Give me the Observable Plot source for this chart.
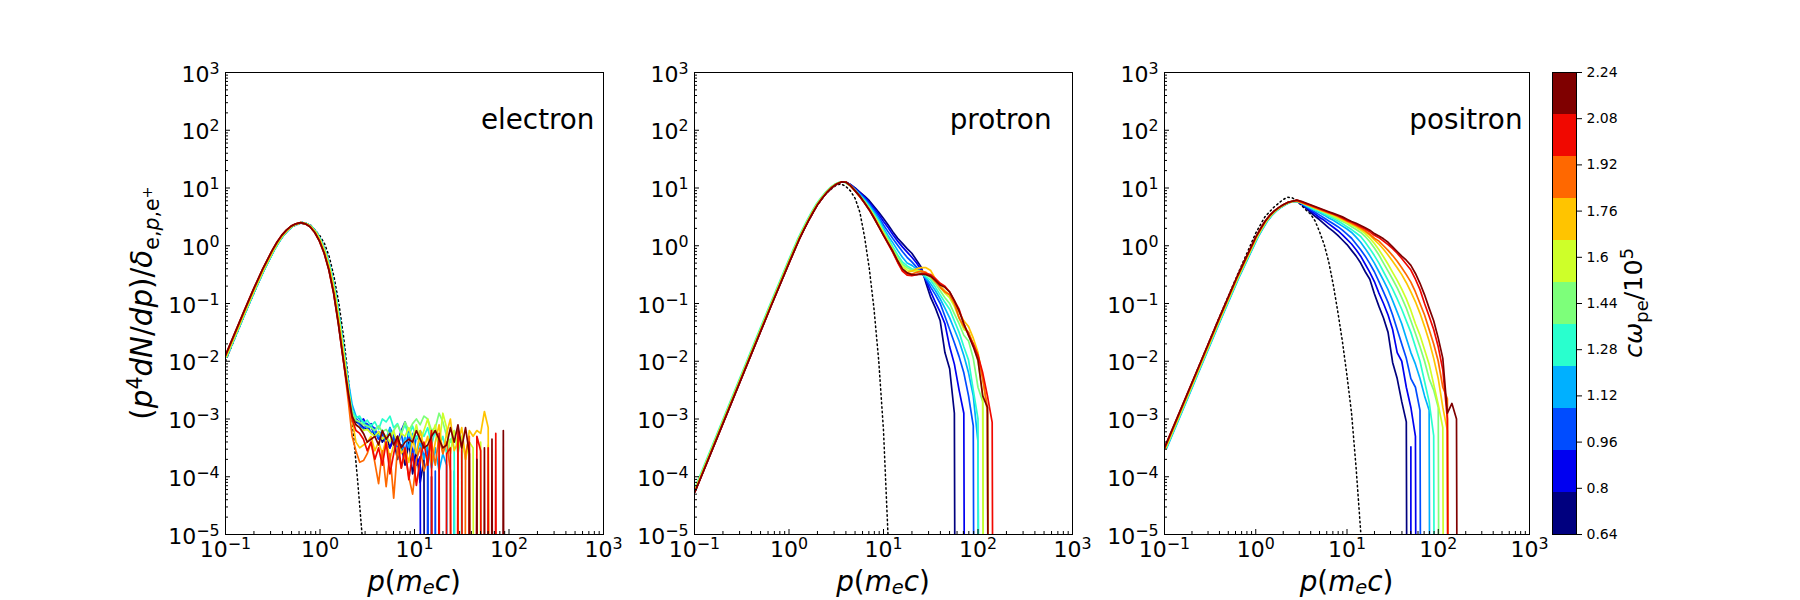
<!DOCTYPE html>
<html>
<head>
<meta charset="utf-8">
<script src="https://cdn.jsdelivr.net/npm/d3@7"></script>
<script src="https://cdn.jsdelivr.net/npm/@observablehq/plot@0.6"></script>
<style>
  body { margin: 0; background: white; overflow: hidden; font-family: "DejaVu Sans"; }
  #page { position: relative; width: 1800px; height: 600px; }
  .lab { position: absolute; font-size: 27.8px; white-space: nowrap; line-height: 1; color: black; }
  .lab sub, .lab sup { font-size: 0.7em; line-height: 0; }
  .lab .low { font-size: 0.7em; vertical-align: -0.15em; line-height: 0; }
</style>
</head>
<body>
<div id="page"></div>
<script>
// all curves as log10 values, o = empty bin
const o = -30;

const times = [0.64, 0.8, 0.96, 1.12, 1.28, 1.44, 1.6, 1.76, 1.92, 2.08, 2.24];
const jet = ["#00007f", "#0000f1", "#004cff", "#00b0ff", "#29ffce", "#7dff7a", "#ceff29", "#ffc400", "#ff6800", "#f10800", "#7f0000"];
const barEdges = [0.64, 0.7855, 0.9309, 1.0764, 1.2218, 1.3673, 1.5127, 1.6582, 1.8036, 1.9491, 2.0945, 2.24];
const decadesX = [0.1, 1, 10, 100, 1000];
const decadesY = [1e-5, 1e-4, 1e-3, 1e-2, 1e-1, 1, 10, 100, 1000];
const multiples = [2, 3, 4, 5, 6, 7, 8, 9];

// electron
const electronBodyP = [-1, -0.9, -0.8, -0.7, -0.6, -0.5, -0.45, -0.4, -0.35, -0.3, -0.25, -0.2, -0.15, -0.1, -0.05, 0, 0.05, 0.1, 0.15, 0.2, 0.25];
const electronBody = [-1.92, -1.53, -1.14, -0.76, -0.4, -0.08, 0.06, 0.18, 0.27, 0.34, 0.38, 0.4, 0.38, 0.33, 0.23, 0.08, -0.13, -0.42, -0.82, -1.35, -1.95];
const electronShift = [0.01, 0.012, 0.014, 0.014, 0.014, 0.01, 0.006, 0.002, -0.004, -0.006, -0.006];
const electronTailP = [0.3, 0.34, 0.38, 0.42, 0.46, 0.5, 0.54, 0.58, 0.62, 0.66, 0.7, 0.74, 0.78, 0.82, 0.86, 0.9, 0.94, 0.98, 1.02, 1.06, 1.1, 1.14, 1.18, 1.22, 1.26, 1.3, 1.34, 1.38, 1.42, 1.46, 1.5, 1.54, 1.58, 1.62, 1.66, 1.7, 1.74, 1.78, 1.82, 1.86, 1.9, 1.94, 1.98];
const electronTail = [
  [-2.5, -2.95, -3.05, -3.08, -3.15, -3.18, -3.12, -3.3, -3.22, -3.4, -3.3, -3.5, -3.35, -3.7, -3.45, -3.8, -3.4, -3.95, -3.55, -4.1, -3.7, o, -4.0, o],
  [-2.5, -2.9, -3.0, -3.05, -3.0, -3.12, -3.08, -3.2, -3.35, -3.25, -3.45, -3.5, -3.3, -3.4, -3.2, -3.05, -3.3, -3.55, -3.8, -3.65, o, -3.8, o],
  [-2.45, -2.9, -3.0, -3.1, -3.18, -3.08, -3.25, -3.15, -3.35, -3.2, -3.42, -3.15, -3.3, -3.5, -3.25, -3.6, -3.2, -3.7, -3.3, -3.4, -3.65, -3.5, o, -3.9, o],
  [-2.35, -2.75, -2.95, -3.0, -3.05, -3.15, -3.1, -3.25, -3.3, -3.2, -3.4, -3.15, -3.45, -3.3, -3.55, -3.3, -3.5, -3.25, -3.6, -3.4, -3.7, -3.45, -3.85, -3.5, -3.9, -3.6, -3.8, o, -3.9, o],
  [-2.45, -2.85, -2.98, -2.95, -3.08, -3.02, -3.12, -3.05, -3.18, -3.0, -3.05, -2.95, -3.15, -3.08, -3.25, -3.1, -3.3, -3.12, -3.35, -3.2, -3.3, -3.15, -3.45, -3.2, -3.5, -3.3, -3.6, -3.35, -3.5, o, -3.55, o],
  [-2.5, -2.9, -3.02, -3.05, -3.1, -3.12, -3.15, -3.2, -3.12, -3.22, -3.18, -3.28, -3.2, -3.1, -3.25, -3.05, -3.2, -3.08, -3.0, -3.1, -2.95, -3.0, -3.2, -3.15, -2.9, -3.05, -3.3, -3.4, -3.2, -3.6, -3.3, o, -3.6, o],
  [-2.5, -2.95, -3.1, -3.15, -3.2, -3.18, -3.25, -3.3, -3.22, -3.35, -3.28, -3.4, -3.2, -3.45, -3.25, -3.3, -3.15, -3.35, -3.1, -3.4, -3.2, -3.0, -3.3, -3.1, -3.5, -2.9, -3.15, -3.6, -3.2, -3.5, -3.3, -3.7, -3.4, -3.5, o, -3.4, o, -3.45, o],
  [-2.5, -3.0, -3.4, -3.5, -3.45, -3.4, -3.3, -3.55, -3.4, -3.6, -3.35, -3.7, -3.45, -3.3, -3.6, -3.5, -3.75, -3.35, -3.6, -3.2, -3.5, -3.3, -3.8, -3.4, -3.1, -3.6, -3.25, -3.0, -3.55, -3.4, -3.15, -3.7, -3.2, -3.3, -3.2, -3.25, -2.87, -3.15, o],
  [-2.7, -3.3, -3.55, -3.75, -3.72, -3.6, -3.4, -3.75, -4.12, -3.55, -4.17, -3.6, -4.37, -3.5, -3.85, -3.6, -4.0, -4.3, -3.7, -3.5, -3.9, -3.7, -3.4, -3.8, -3.3, -3.6, -3.4, -3.9, o, -3.3, o, -3.6, -3.3, o],
  [-2.6, -3.0, -3.2, -3.25, -3.35, -3.55, -3.4, -3.7, -3.5, -3.8, -3.4, -3.95, -3.6, -3.3, -3.85, -3.5, -4.05, -3.6, -4.15, -3.7, -3.4, -3.8, -3.2, o, -3.25, o, -3.6, -3.5, o, -3.2, -3.5, o, -3.4, o, -3.3, -3.55, o, -3.5, o, -3.25, o],
  [-2.55, -2.95, -3.1, -3.15, -3.25, -3.4, -3.35, -3.3, -3.45, -3.2, -3.35, -3.25, -3.45, -3.3, -3.5, -3.4, -3.35, -3.4, -3.2, -3.35, -3.5, -3.45, -3.3, -3.2, -3.35, -3.5, -3.45, -3.15, -3.4, -3.1, -3.5, -3.15, -3.6, o, -3.7, o, -3.5, o, -3.35, o, o, -3.2, o]
];
const electronDotP = [-1, -0.8, -0.6, -0.5, -0.4, -0.3, -0.2, -0.1, 0, 0.05, 0.1, 0.15, 0.2, 0.25, 0.3, 0.35, 0.4, 0.45];
const electronDot = [-2.0, -1.2, -0.45, -0.1, 0.17, 0.33, 0.39, 0.36, 0.17, 0.03, -0.2, -0.55, -1.0, -1.58, -2.3, -3.2, -4.1, -5.1];

// protron
const protronBodyP = [-1, -0.8, -0.6, -0.4, -0.2, 0, 0.05, 0.1, 0.15, 0.2, 0.25, 0.3, 0.35, 0.4, 0.45, 0.5, 0.55, 0.6];
const protronBody = [-4.26, -3.46, -2.66, -1.86, -1.06, -0.28, -0.09, 0.1, 0.27, 0.43, 0.58, 0.72, 0.83, 0.93, 1.01, 1.07, 1.105, 1.1];
const protronShift = [0.004, 0.004, 0.002, -0.004, -0.012, -0.008, -0.002, 0.002, 0.004, 0.005, 0.006];
const protronTailP = [0.65, 0.7, 0.75, 0.8, 0.85, 0.9, 0.95, 1, 1.05, 1.1, 1.15, 1.2, 1.25, 1.3, 1.35, 1.4, 1.45, 1.5, 1.55, 1.6, 1.65, 1.7, 1.75, 1.8, 1.85, 1.9, 1.95, 2, 2.05, 2.1, 2.15, 2.2];
const protronTail = [
  [1.06, 1, 0.93, 0.86, 0.78, 0.68, 0.58, 0.47, 0.36, 0.24, 0.13, 0.04, -0.05, -0.13, -0.25, -0.37, -0.65, -0.9, -1.08, -1.3, -1.85, -2.13, -2.9, o],
  [1.06, 0.99, 0.92, 0.84, 0.75, 0.65, 0.54, 0.42, 0.31, 0.19, 0.08, -0.02, -0.11, -0.2, -0.3, -0.42, -0.6, -0.8, -0.98, -1.15, -1.35, -1.75, -2.05, -2.5, -2.9, o],
  [1.05, 0.98, 0.9, 0.82, 0.72, 0.62, 0.5, 0.36, 0.24, 0.12, 0.01, -0.1, -0.2, -0.28, -0.37, -0.46, -0.58, -0.72, -0.85, -1, -1.22, -1.45, -1.68, -1.92, -2.2, -2.6, -3.12, o],
  [1.05, 0.97, 0.89, 0.8, 0.7, 0.58, 0.46, 0.31, 0.17, 0.05, -0.08, -0.2, -0.3, -0.34, -0.4, -0.47, -0.56, -0.66, -0.78, -0.92, -1.08, -1.25, -1.45, -1.65, -1.9, -2.2, -2.6, -3.4, o],
  [1.04, 0.96, 0.87, 0.78, 0.67, 0.55, 0.42, 0.27, 0.13, -0.02, -0.16, -0.28, -0.35, -0.4, -0.42, -0.48, -0.54, -0.6, -0.72, -0.85, -0.98, -1.1, -1.3, -1.5, -1.75, -1.98, -2.5, -3, o],
  [1.04, 0.96, 0.86, 0.77, 0.65, 0.53, 0.39, 0.24, 0.1, -0.05, -0.2, -0.32, -0.38, -0.42, -0.43, -0.46, -0.5, -0.56, -0.66, -0.78, -0.9, -1, -1.18, -1.35, -1.55, -1.65, -1.95, -2.45, -2.7, o],
  [1.04, 0.95, 0.85, 0.75, 0.64, 0.51, 0.37, 0.22, 0.07, -0.08, -0.24, -0.36, -0.42, -0.44, -0.43, -0.44, -0.47, -0.53, -0.62, -0.72, -0.82, -0.9, -1.05, -1.25, -1.45, -1.5, -1.7, -2, -2.6, o],
  [1.04, 0.95, 0.85, 0.75, 0.63, 0.5, 0.35, 0.2, 0.05, -0.1, -0.27, -0.4, -0.46, -0.44, -0.4, -0.38, -0.38, -0.43, -0.58, -0.7, -0.78, -0.85, -1, -1.15, -1.3, -1.4, -1.6, -1.85, -2.3, -2.9, o],
  [1.04, 0.95, 0.85, 0.74, 0.62, 0.48, 0.33, 0.19, 0.04, -0.11, -0.28, -0.42, -0.49, -0.49, -0.46, -0.44, -0.46, -0.53, -0.62, -0.72, -0.8, -0.85, -1, -1.25, -1.4, -1.5, -1.72, -1.9, -2.3, -2.8, o],
  [1.04, 0.95, 0.85, 0.74, 0.62, 0.48, 0.33, 0.18, 0.03, -0.12, -0.29, -0.44, -0.51, -0.52, -0.5, -0.48, -0.48, -0.5, -0.57, -0.65, -0.7, -0.8, -0.95, -1.1, -1.35, -1.55, -1.7, -1.9, -2.2, -2.6, -3.06, o],
  [1.04, 0.95, 0.86, 0.74, 0.62, 0.48, 0.33, 0.18, 0.04, -0.1, -0.26, -0.4, -0.47, -0.5, -0.5, -0.49, -0.5, -0.53, -0.6, -0.68, -0.72, -0.8, -0.95, -1.13, -1.35, -1.55, -1.75, -1.98, -2.6, -2.8, o]
];
const protronDotP = [-1, -0.8, -0.6, -0.4, -0.2, 0, 0.1, 0.2, 0.3, 0.4, 0.5, 0.55, 0.6, 0.65, 0.7, 0.75, 0.8, 0.85, 0.9, 0.95, 1, 1.05];
const protronDot = [-4.26, -3.46, -2.66, -1.86, -1.06, -0.28, 0.1, 0.43, 0.71, 0.92, 1.05, 1.07, 1.03, 0.95, 0.82, 0.58, 0.15, -0.4, -1.1, -2, -3.2, -5.1];

// positron
const positronBodyP = [-1, -0.8, -0.6, -0.4, -0.2, 0, 0.05, 0.1, 0.15, 0.2, 0.25, 0.3, 0.35, 0.4];
const positronBody = [-3.5, -2.75, -2, -1.25, -0.52, 0.15, 0.29, 0.42, 0.52, 0.6, 0.66, 0.71, 0.75, 0.77];
const positronShift = [0.012, 0.016, 0.02, 0.025, 0.02, 0.016, 0.012, 0.008, 0.004, 0, 0];
const positronTailP = [0.45, 0.5, 0.55, 0.6, 0.65, 0.7, 0.75, 0.8, 0.85, 0.9, 0.95, 1, 1.05, 1.1, 1.15, 1.2, 1.25, 1.3, 1.35, 1.4, 1.45, 1.5, 1.55, 1.6, 1.65, 1.7, 1.75, 1.8, 1.85, 1.9, 1.95, 2, 2.05, 2.1, 2.15, 2.2, 2.25];
const positronTail = [
  [0.77, 0.72, 0.65, 0.58, 0.51, 0.45, 0.38, 0.31, 0.25, 0.18, 0.1, 0.02, -0.08, -0.18, -0.3, -0.45, -0.58, -0.83, -1.05, -1.25, -1.5, -2.02, -2.3, -2.7, -3.05, o],
  [0.77, 0.73, 0.67, 0.61, 0.55, 0.49, 0.44, 0.38, 0.32, 0.26, 0.19, 0.11, 0.03, -0.07, -0.18, -0.32, -0.46, -0.62, -0.82, -1, -1.2, -1.45, -1.85, -2, -2.45, -2.8, -3.3, o],
  [0.77, 0.73, 0.68, 0.63, 0.58, 0.53, 0.48, 0.43, 0.38, 0.33, 0.27, 0.2, 0.13, 0.03, -0.07, -0.18, -0.31, -0.45, -0.62, -0.8, -0.98, -1.2, -1.45, -1.7, -1.95, -2.3, -2.45, -2.85, o],
  [0.77, 0.74, 0.69, 0.65, 0.61, 0.57, 0.53, 0.48, 0.44, 0.39, 0.34, 0.29, 0.23, 0.15, 0.06, -0.05, -0.17, -0.3, -0.45, -0.6, -0.76, -0.95, -1.15, -1.35, -1.6, -1.85, -2.05, -2.3, -2.6, -2.85, o],
  [0.77, 0.74, 0.7, 0.66, 0.62, 0.59, 0.55, 0.51, 0.47, 0.43, 0.38, 0.33, 0.28, 0.22, 0.16, 0.06, -0.05, -0.17, -0.3, -0.45, -0.6, -0.75, -0.92, -1.1, -1.3, -1.5, -1.75, -2, -2.35, -2.7, -3.29, o],
  [0.77, 0.75, 0.71, 0.68, 0.64, 0.61, 0.58, 0.54, 0.5, 0.46, 0.42, 0.38, 0.33, 0.28, 0.23, 0.16, 0.07, -0.04, -0.16, -0.3, -0.44, -0.58, -0.73, -0.9, -1.08, -1.3, -1.52, -1.75, -2, -2.3, -2.5, -2.8, o],
  [0.77, 0.75, 0.72, 0.69, 0.65, 0.62, 0.59, 0.56, 0.52, 0.48, 0.44, 0.4, 0.36, 0.32, 0.27, 0.21, 0.13, 0.04, -0.07, -0.19, -0.32, -0.46, -0.6, -0.75, -0.92, -1.12, -1.35, -1.55, -1.8, -2.05, -2.4, -2.75, -3.15, o],
  [0.78, 0.75, 0.72, 0.69, 0.66, 0.63, 0.6, 0.57, 0.54, 0.5, 0.46, 0.42, 0.38, 0.34, 0.29, 0.24, 0.18, 0.1, 0.03, -0.06, -0.16, -0.27, -0.38, -0.5, -0.64, -0.8, -0.97, -1.17, -1.4, -1.65, -1.95, -2.3, -2.8, -3.2, o],
  [0.78, 0.75, 0.72, 0.69, 0.66, 0.63, 0.6, 0.57, 0.54, 0.51, 0.47, 0.43, 0.39, 0.35, 0.31, 0.26, 0.2, 0.13, 0.08, 0, -0.08, -0.17, -0.27, -0.38, -0.5, -0.63, -0.8, -1, -1.2, -1.45, -1.7, -2, -2.45, -2.65, o],
  [0.79, 0.76, 0.73, 0.7, 0.67, 0.64, 0.61, 0.58, 0.55, 0.52, 0.48, 0.44, 0.41, 0.37, 0.33, 0.29, 0.24, 0.18, 0.14, 0.08, 0.02, -0.05, -0.13, -0.22, -0.32, -0.42, -0.58, -0.76, -1, -1.22, -1.45, -1.75, -2.15, -3, o],
  [0.79, 0.77, 0.74, 0.71, 0.68, 0.65, 0.62, 0.59, 0.56, 0.53, 0.5, 0.46, 0.42, 0.39, 0.35, 0.31, 0.27, 0.21, 0.17, 0.12, 0.06, -0.02, -0.1, -0.18, -0.25, -0.34, -0.48, -0.65, -0.85, -1.08, -1.3, -1.6, -1.95, -2.9, -2.73, -3, o]
];
const positronDotP = [-1, -0.8, -0.6, -0.4, -0.2, 0, 0.1, 0.2, 0.3, 0.35, 0.4, 0.45, 0.5, 0.55, 0.6, 0.65, 0.7, 0.75, 0.8, 0.85, 0.9, 0.95, 1, 1.05, 1.1, 1.15];
const positronDot = [-3.52, -2.76, -2, -1.24, -0.5, 0.22, 0.5, 0.67, 0.8, 0.84, 0.83, 0.78, 0.7, 0.62, 0.55, 0.43, 0.24, 0.02, -0.28, -0.68, -1.15, -1.66, -2.25, -2.9, -3.85, -4.95];
// lone spikes after the first positron curve stops
const positronSpikes = [{lp: 1.7, top: -3.48, t: 0.8}];

const H = 600, mTop = 72, mBottom = 66;
const panelH = H - mTop - mBottom;
const page = d3.select("#page");

function seriesRows(bodyP, body, shift, tailP, tails) {
  return times.flatMap((t, i) => [
    ...bodyP.map((lp, k) => ({p: 10 ** (lp + shift[i]), f: 10 ** body[k], t})),
    ...tails[i].map((v, k) => ({p: 10 ** tailP[k], f: 10 ** v, t}))
  ]);
}

function dotRows(dotP, dot) {
  return dotP.map((lp, k) => ({p: 10 ** lp, f: 10 ** dot[k]}));
}

function powerLabel(d) {
  return "10^" + String(Math.round(Math.log10(d))).replace("-", "\u2212");
}

// Plot gives "10^-1" as plain text, turn the exponent into a raised tspan
function raiseExponents(svg) {
  d3.select(svg).selectAll("text").each(function () {
    const parts = this.textContent.split("^");
    if (parts.length < 2) return;
    this.textContent = parts[0];
    d3.select(this).append("tspan").attr("dy", "-0.5em").attr("font-size", "0.72em").text(parts[1]);
  });
}

function panel(name, left, panelW, nameDx, rows, dots, spikes = []) {
  const mLeft = 110, mRight = 40;
  const xMinor = decadesX.slice(0, -1).flatMap(d => multiples.map(m => d * m));
  const yMinor = decadesY.slice(0, -1).flatMap(d => multiples.map(m => d * m));
  const chart = Plot.plot({
    width: mLeft + panelW + mRight,
    height: H,
    marginLeft: mLeft,
    marginRight: mRight,
    marginTop: mTop,
    marginBottom: mBottom,
    style: {position: "absolute", left: (left - mLeft) + "px", top: "0px", background: "none", fontFamily: "DejaVu Sans", color: "black"},
    x: {type: "log", domain: [0.1, 1000], axis: null},
    y: {type: "log", domain: [1e-5, 1000], axis: null},
    color: {type: "ordinal", domain: times, range: jet},
    marks: [
      Plot.line(dots, {x: "p", y: "f", stroke: "black", strokeWidth: 1.5, strokeDasharray: "1.5,3", clip: true}),
      Plot.line(rows, {x: "p", y: "f", stroke: "t", strokeWidth: 1.7, clip: true}),
      Plot.ruleX(spikes, {x: d => 10 ** d.lp, y1: 1e-5, y2: d => 10 ** d.top, stroke: "t", strokeWidth: 1.7}),
      Plot.ruleX(decadesX, {insetTop: panelH - 5, stroke: "black"}),
      Plot.ruleX(xMinor, {insetTop: panelH - 3, stroke: "black"}),
      Plot.ruleY(decadesY, {insetRight: panelW - 5, stroke: "black"}),
      Plot.ruleY(yMinor, {insetRight: panelW - 3, stroke: "black"}),
      Plot.axisX(decadesX, {anchor: "bottom", tickSize: 0, tickPadding: 7, fontSize: 22, label: null, tickFormat: powerLabel}),
      Plot.axisY(decadesY, {anchor: "left", tickSize: 0, tickPadding: 6, dy: 2, fontSize: 22, label: null, tickFormat: powerLabel}),
      Plot.text([name], {frameAnchor: "top-right", dx: nameDx, dy: 37, fontSize: 27.8, lineAnchor: "top", fill: "black"}),
      Plot.frame({stroke: "black", strokeWidth: 1})
    ]
  });
  raiseExponents(chart);
  page.append(() => chart);
  page.append("div").attr("class", "lab")
    .style("left", (left + panelW / 2) + "px").style("top", "568px")
    .style("transform", "translateX(-50%)")
    .html("<i>p</i>(<i>m<span class='low'>e</span>c</i>)");
}

panel("electron", 225, 378, -9, seriesRows(electronBodyP, electronBody, electronShift, electronTailP, electronTail), dotRows(electronDotP, electronDot));
panel("protron", 694, 378, -21, seriesRows(protronBodyP, protronBody, protronShift, protronTailP, protronTail), dotRows(protronDotP, protronDot));
panel("positron", 1164, 365, -7, seriesRows(positronBodyP, positronBody, positronShift, positronTailP, positronTail), dotRows(positronDotP, positronDot), positronSpikes);

// colour bar: 11 equal cells under 11 evenly spaced labels
const barCells = jet.map((c, i) => ({lo: barEdges[i], hi: barEdges[i + 1], c}));
const bar = Plot.plot({
  width: 80,
  height: H,
  marginLeft: 2,
  marginRight: 54,
  marginTop: mTop,
  marginBottom: mBottom,
  style: {position: "absolute", left: "1550px", top: "0px", background: "none", fontFamily: "DejaVu Sans", color: "black"},
  y: {domain: [0.64, 2.24], axis: null},
  marks: [
    Plot.barY(barCells, {y1: "lo", y2: "hi", fill: "c", shapeRendering: "crispEdges"}),
    Plot.axisY(times, {anchor: "right", tickSize: 5, tickPadding: 5, fontSize: 14, label: null, tickFormat: d => String(d)}),
    Plot.frame({stroke: "black", strokeWidth: 1})
  ]
});
page.append(() => bar);

page.append("div").attr("class", "lab")
  .style("left", "143px").style("top", "303px").style("font-size", "29.3px")
  .style("transform", "translate(-50%,-50%) rotate(-90deg)")
  .html("(<i>p</i><sup>4</sup><i>dN</i>/<i>dp</i>)/<i>δ</i><sub>e,<i>p</i>,e<sup>+</sup></sub>");
page.append("div").attr("class", "lab")
  .style("left", "1634px").style("top", "303px").style("font-size", "25.5px")
  .style("transform", "translate(-50%,-50%) rotate(-90deg)")
  .html("<i>cω</i><sub>pe</sub>/10<sup>5</sup>");
</script>
</body>
</html>
